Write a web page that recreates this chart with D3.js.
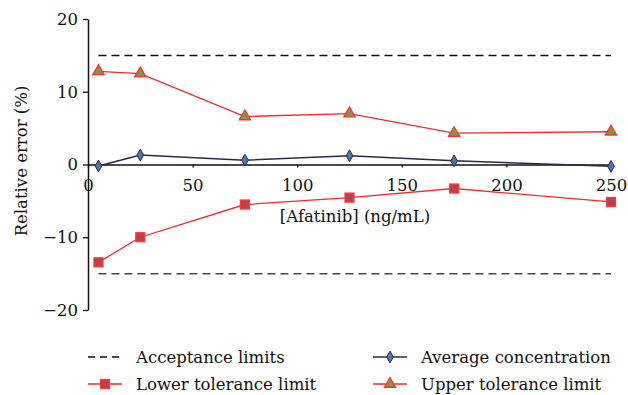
<!DOCTYPE html>
<html lang="en">
<head>
    <meta charset="UTF-8">
    <script src="https://cdn.jsdelivr.net/npm/d3@7"></script>
    <title>Relative error</title>
    <style>
        body { margin: 0; background: #fff; }
    </style>
</head>
<body>
    <svg width="628" height="395"></svg>

    <script>
        // data
        const concentrations = [5, 25, 75, 125, 175, 250];
        const upperLimit = [12.8, 12.5, 6.6, 7.0, 4.3, 4.5];
        const average = [-0.2, 1.3, 0.6, 1.2, 0.5, -0.25];
        const lowerLimit = [-13.45, -10.0, -5.5, -4.55, -3.3, -5.15];
        const acceptance = [15, -15];
        const xTicks = [0, 50, 100, 150, 200, 250];
        const yTicks = [-20, -10, 0, 10, 20];

        const FONT = "'DejaVu Serif', serif";
        const FS = 16.5;

        const svg = d3.select('svg');

        const x = d3.scaleLinear().domain([0, 250]).range([88, 611]);
        const y = d3.scaleLinear().domain([-20, 20]).range([310, 19]);

        const red = '#f52a2a';

        // y axis
        const yAxis = svg.append('g')
            .attr('transform', 'translate(88,0)')
            .call(d3.axisLeft(y).tickValues(yTicks).tickSize(5).tickSizeOuter(0)
                .tickFormat(d => d < 0 ? '\u2212' + Math.abs(d) : d));
        yAxis.select('.domain').attr('stroke', '#111').attr('stroke-width', 1.5);
        yAxis.selectAll('.tick line').attr('stroke', '#111').attr('stroke-width', 1.3);
        yAxis.selectAll('.tick text').attr('x', -10);

        // x axis through zero
        const xAxis = svg.append('g')
            .attr('transform', `translate(0,${y(0)})`)
            .call(d3.axisBottom(x).tickValues(xTicks).tickSize(3).tickSizeOuter(0));
        xAxis.select('.domain').attr('stroke', '#111').attr('stroke-width', 1.5);
        xAxis.selectAll('.tick line').attr('stroke', '#111').attr('stroke-width', 1.3);
        xAxis.selectAll('.tick text').attr('y', 15);

        // acceptance limits
        svg.append('g').selectAll('line')
            .data(acceptance)
            .join('line')
            .attr('x1', x(5)).attr('x2', x(250))
            .attr('y1', d => y(d)).attr('y2', d => y(d))
            .attr('stroke', (d, i) => i === 0 ? '#111' : '#4a4a4a')
            .attr('stroke-width', 1.5)
            .attr('stroke-dasharray', '8,5');

        const line = d3.line().x(d => x(d[0])).y(d => y(d[1]));
        const pts = vals => concentrations.map((c, i) => [c, vals[i]]);

        // lower tolerance
        svg.append('path').datum(pts(lowerLimit))
            .attr('d', line).attr('fill', 'none').attr('stroke', red).attr('stroke-width', 1.3);
        svg.append('g').selectAll('rect')
            .data(pts(lowerLimit))
            .join('rect')
            .attr('x', d => x(d[0]) - 4.5).attr('y', d => y(d[1]) - 4.5)
            .attr('width', 9).attr('height', 9)
            .attr('fill', '#b8424a').attr('stroke', '#ff3a3a').attr('stroke-width', 1.3);

        // average
        svg.append('path').datum(pts(average))
            .attr('d', line).attr('fill', 'none').attr('stroke', '#2c2850').attr('stroke-width', 1.5);
        const diamond = d3.symbol().type(d3.symbolDiamond).size(40);
        svg.append('g').selectAll('path')
            .data(pts(average))
            .join('path')
            .attr('transform', d => `translate(${x(d[0])},${y(d[1])})`)
            .attr('d', diamond)
            .attr('fill', '#4a74b4').attr('stroke', '#2c2850').attr('stroke-width', 1);

        // upper tolerance
        svg.append('path').datum(pts(upperLimit))
            .attr('d', line).attr('fill', 'none').attr('stroke', red).attr('stroke-width', 1.3);
        const tri = d3.symbol().type(d3.symbolTriangle).size(55);
        svg.append('g').selectAll('path')
            .data(pts(upperLimit))
            .join('path')
            .attr('transform', d => `translate(${x(d[0])},${y(d[1])})`)
            .attr('d', tri)
            .attr('fill', '#7f9a45').attr('stroke', '#ff3030').attr('stroke-width', 1.3);

        // axis titles
        svg.append('text')
            .attr('x', 355).attr('y', 222)
            .attr('text-anchor', 'middle')
            .text('[Afatinib] (ng/mL)');
        svg.append('text')
            .attr('transform', 'translate(27,161) rotate(-90)')
            .attr('text-anchor', 'middle')
            .text('Relative error (%)');

        // legend
        const legend = [
            { label: 'Acceptance limits', x: 88, y: 357, kind: 'dash' },
            { label: 'Lower tolerance limit', x: 88, y: 384, kind: 'square' },
            { label: 'Average concentration', x: 373, y: 357, kind: 'diamond' },
            { label: 'Upper tolerance limit', x: 373, y: 384, kind: 'triangle' }
        ];
        const lg = svg.append('g').selectAll('g').data(legend).join('g')
            .attr('transform', d => `translate(${d.x},${d.y})`);
        lg.append('line')
            .attr('x1', 0).attr('x2', 34).attr('y1', 0).attr('y2', 0)
            .attr('stroke', d => d.kind === 'dash' ? '#111' : d.kind === 'diamond' ? '#2c2850' : red)
            .attr('stroke-width', 1.3)
            .attr('stroke-dasharray', d => d.kind === 'dash' ? '7,5' : null);
        lg.filter(d => d.kind === 'square').append('rect')
            .attr('x', 12.5).attr('y', -4.5).attr('width', 9).attr('height', 9)
            .attr('fill', '#b8424a').attr('stroke', '#ff3a3a').attr('stroke-width', 1.3);
        lg.filter(d => d.kind === 'diamond').append('path')
            .attr('transform', 'translate(17,0)').attr('d', diamond)
            .attr('fill', '#4a74b4').attr('stroke', '#2c2850');
        lg.filter(d => d.kind === 'triangle').append('path')
            .attr('transform', 'translate(17,0)').attr('d', tri)
            .attr('fill', '#7f9a45').attr('stroke', '#ff3030').attr('stroke-width', 1.3);
        lg.append('text')
            .attr('x', 48)
            .attr('y', 6)
            .text(d => d.label);

        // one font for every label
        svg.selectAll('text')
            .attr('font-family', FONT)
            .attr('font-size', FS)
            .attr('fill', '#111');
    </script>
</body>
</html>
